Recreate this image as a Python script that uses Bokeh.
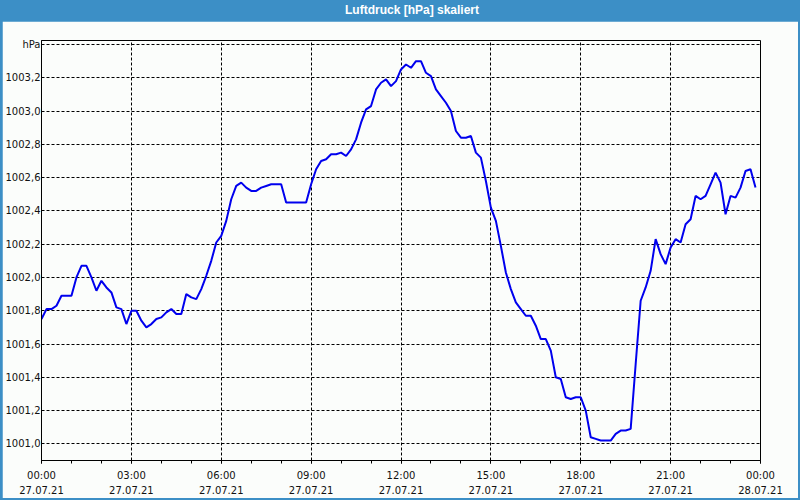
import pandas as pd
from bokeh.plotting import figure
from bokeh.layouts import column
from bokeh.models import (FixedTicker, CustomJSTickFormatter, DatetimeTickFormatter,
                          Div, Range1d, ColumnDataSource)
from bokeh.embed import file_html
from bokeh.resources import INLINE

title_text = "Luftdruck [hPa] skaliert"
start_time = "2021-07-27 00:00"
end_time = "2021-07-28 00:00"

# 10-minute readings, hPa
pressure = [
    1001.75, 1001.81, 1001.81, 1001.83, 1001.89, 1001.89, 1001.89, 1002.00, 1002.07, 1002.07,
    1002.00, 1001.92, 1001.98, 1001.94, 1001.91, 1001.82, 1001.81, 1001.72, 1001.80, 1001.80,
    1001.74, 1001.70, 1001.72, 1001.75, 1001.76, 1001.79, 1001.81, 1001.78, 1001.78, 1001.90,
    1001.88, 1001.87, 1001.93, 1002.01, 1002.10, 1002.21, 1002.25, 1002.34, 1002.47, 1002.55,
    1002.57, 1002.54, 1002.52, 1002.52, 1002.54, 1002.55, 1002.56, 1002.56, 1002.56, 1002.45,
    1002.45, 1002.45, 1002.45, 1002.45, 1002.56, 1002.65, 1002.70, 1002.71, 1002.74, 1002.74,
    1002.75, 1002.73, 1002.77, 1002.83, 1002.93, 1003.01, 1003.03, 1003.13, 1003.17, 1003.19,
    1003.15, 1003.18, 1003.25, 1003.28, 1003.26, 1003.30, 1003.30, 1003.23, 1003.21, 1003.13,
    1003.09, 1003.05, 1003.00, 1002.88, 1002.84, 1002.84, 1002.85, 1002.75, 1002.72, 1002.58,
    1002.42, 1002.34, 1002.19, 1002.03, 1001.93, 1001.85, 1001.81, 1001.77, 1001.77, 1001.71,
    1001.63, 1001.63, 1001.56, 1001.40, 1001.39, 1001.28, 1001.27, 1001.28, 1001.28, 1001.20,
    1001.04, 1001.03, 1001.02, 1001.02, 1001.02, 1001.06, 1001.08, 1001.08, 1001.09, 1001.48,
    1001.86, 1001.94, 1002.04, 1002.23, 1002.14, 1002.08, 1002.18, 1002.23, 1002.21, 1002.32,
    1002.35, 1002.49, 1002.47, 1002.49, 1002.56, 1002.63, 1002.57, 1002.38, 1002.49, 1002.48,
    1002.54, 1002.64, 1002.65, 1002.54,
]
times = pd.date_range(start_time, periods=len(pressure), freq="10min")

y_ticks = [1001.0, 1001.2, 1001.4, 1001.6, 1001.8, 1002.0, 1002.2, 1002.4,
           1002.6, 1002.8, 1003.0, 1003.2, 1003.4]
unit_label = "hPa"


def ms(t):
    return pd.Timestamp(t).timestamp() * 1000.0


x_major = [ms(t) for t in pd.date_range(start_time, end_time, freq="3h")]
x_minor = [ms(t) for t in pd.date_range(start_time, end_time, freq="1h")]

BG = "#FBFDFB"
BLUE_BAR = "#3C8FC6"
FONT = "DejaVu Sans"

src = ColumnDataSource(dict(t=times, p=pressure))

# figure sits inside a 2px blue window frame, below a 21px title bar
p = figure(width=796, height=477, x_axis_type="datetime", output_backend="svg",
           toolbar_location=None,
           x_range=Range1d(ms(start_time), ms(end_time)),
           y_range=Range1d(1000.9, 1003.424),
           min_border_left=38, min_border_right=38, min_border_top=19, min_border_bottom=38,
           background_fill_color=BG, border_fill_color=BG)
p.outline_line_color = "black"
p.outline_line_width = 1
p.outline_line_alpha = 1

p.line("t", "p", source=src, line_color="#0000EE", line_width=2)

# x axis
p.xaxis.ticker = FixedTicker(ticks=x_major, minor_ticks=x_minor)
fmt = "%H:%M\n%d.%m.%y"
p.xaxis.formatter = DatetimeTickFormatter(
    microseconds=fmt, milliseconds=fmt, seconds=fmt, minsec=fmt, minutes=fmt,
    hourmin=fmt, hours=fmt, days=fmt, months=fmt, years=fmt)
p.xaxis.major_tick_out = 3
p.xaxis.major_tick_in = 0
p.xaxis.minor_tick_out = 3
p.xaxis.minor_tick_in = 0
p.xaxis.major_label_standoff = 6
p.xaxis.major_label_text_line_height = 1.4

# y axis
p.yaxis.ticker = FixedTicker(ticks=y_ticks, minor_ticks=[])
p.yaxis.formatter = CustomJSTickFormatter(
    args=dict(unit=unit_label),
    code="return tick > 1003.39 ? unit : tick.toFixed(1).replace('.', ',');")
p.yaxis.major_tick_out = 0
p.yaxis.major_tick_in = 0
p.yaxis.minor_tick_out = 0
p.yaxis.major_label_standoff = 1

for ax in (p.xaxis[0], p.yaxis[0]):
    ax.axis_line_color = "black"
    ax.major_tick_line_color = "black"
    ax.minor_tick_line_color = "black"
    ax.major_label_text_font = FONT
    ax.major_label_text_font_size = "10px"
    ax.major_label_text_color = "#111111"

p.xgrid.ticker = FixedTicker(ticks=x_major)
p.ygrid.ticker = FixedTicker(ticks=y_ticks)
for g in (p.xgrid[0], p.ygrid[0]):
    g.grid_line_color = "black"
    g.grid_line_dash = "3 2"
    g.grid_line_width = 1
    g.grid_line_alpha = 1

bar = Div(
    text=(f'<div style="width:796px;height:21px;box-sizing:border-box;margin:0;'
          f'padding-left:343px;line-height:21px;background:{BLUE_BAR};color:white;'
          f'font-family:\'Liberation Sans\',sans-serif;font-weight:bold;font-size:12px;'
          f'white-space:nowrap;">{title_text}</div>'),
    width=796, height=21, margin=0,
    styles={"background-color": BLUE_BAR})

layout = column(bar, p, spacing=0,
                styles={"background-color": BLUE_BAR, "padding": "0px 2px 2px 2px"})

open("out.html", "w").write(file_html(layout, INLINE))
